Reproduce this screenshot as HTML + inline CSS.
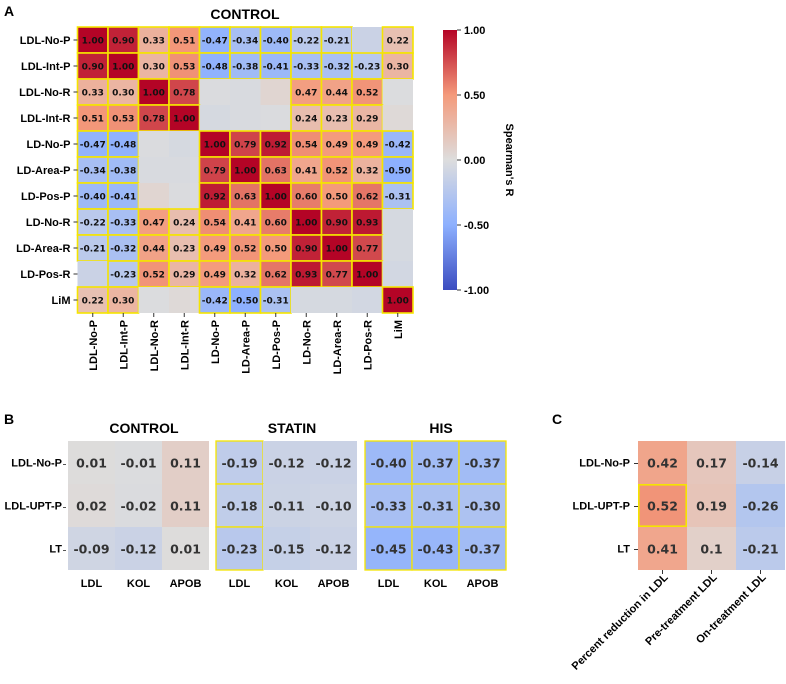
<!DOCTYPE html>
<html><head><meta charset="utf-8"><style>
body{margin:0;background:#fff;}
svg{display:block;font-family:"Liberation Sans",Arial,sans-serif;}
</style></head><body>
<svg id="fig" width="786" height="684" viewBox="0 0 786 684">
<defs>
<linearGradient id="cbgrad" x1="0" y1="1" x2="0" y2="0">
<stop offset="0" stop-color="rgb(59,76,192)"/>
<stop offset="0.25" stop-color="rgb(141,176,254)"/>
<stop offset="0.5" stop-color="rgb(221,221,221)"/>
<stop offset="0.75" stop-color="rgb(244,154,123)"/>
<stop offset="1" stop-color="rgb(180,4,38)"/>
</linearGradient>
</defs>
<text x="4" y="16" font-size="14" font-weight="bold">A</text>
<text x="245" y="19" font-size="14" font-weight="bold" text-anchor="middle">CONTROL</text>
<text x="4" y="424" font-size="14" font-weight="bold">B</text>
<text x="552" y="424" font-size="14" font-weight="bold">C</text>
<g id="gA"></g>
<g id="gB"></g>
<g id="gC"></g>
<g>
<rect x="443" y="30" width="14" height="260" fill="url(#cbgrad)"/>
<g id="cbticks"></g>
<text transform="translate(506,160) rotate(90)" font-size="11" font-weight="bold" text-anchor="middle">Spearman's R</text>
</g>
</svg>
<script>
const aLabels = ["LDL-No-P","LDL-Int-P","LDL-No-R","LDL-Int-R","LD-No-P","LD-Area-P","LD-Pos-P","LD-No-R","LD-Area-R","LD-Pos-R","LiM"];
const aValues = [
[1,.90,.33,.51,-.47,-.34,-.40,-.22,-.21,-.12,.22],
[.90,1,.30,.53,-.48,-.38,-.41,-.33,-.32,-.23,.30],
[.33,.30,1,.78,-.02,-.03,.06,.47,.44,.52,-.01],
[.51,.53,.78,1,-.05,-.03,-.02,.24,.23,.29,.03],
[-.47,-.48,-.02,-.05,1,.79,.92,.54,.49,.49,-.42],
[-.34,-.38,-.03,-.03,.79,1,.63,.41,.52,.32,-.50],
[-.40,-.41,.06,-.02,.92,.63,1,.60,.50,.62,-.31],
[-.22,-.33,.47,.24,.54,.41,.60,1,.90,.93,-.05],
[-.21,-.32,.44,.23,.49,.52,.50,.90,1,.77,-.05],
[-.12,-.23,.52,.29,.49,.32,.62,.93,.77,1,-.07],
[.22,.30,-.01,.03,-.42,-.50,-.31,-.05,-.05,-.07,1]];
const bRows = ["LDL-No-P","LDL-UPT-P","LT"];
const bCols = ["LDL","KOL","APOB"];
const bGroups = ["CONTROL","STATIN","HIS"];
const bControl = [[.01,-.01,.11],[.02,-.02,.11],[-.09,-.12,.01]];
const bStatin = [[-.19,-.12,-.12],[-.18,-.11,-.10],[-.23,-.15,-.12]];
const bHis = [[-.40,-.37,-.37],[-.33,-.31,-.30],[-.45,-.43,-.37]];
const bSigControl = [[0,0,0],[0,0,0],[0,0,0]];
const bSigStatin = [[1,0,0],[1,0,0],[1,0,0]];
const bSigHis = [[1,1,1],[1,1,1],[1,1,1]];
const cCols = ["Percent reduction in LDL","Pre-treatment LDL","On-treatment LDL"];
const cValues = [[.42,.17,-.14],[.52,.19,-.26],[.41,.1,-.21]];
const cLabels = [["0.42","0.17","-0.14"],["0.52","0.19","-0.26"],["0.41","0.1","-0.21"]];
const cSig = [[0,0,0],[1,0,0],[0,0,0]];
const cbTicks = [1,0.5,0,-0.5,-1];

const NS="http://www.w3.org/2000/svg";
const stops=[[-1,[59,76,192]],[-0.5,[141,176,254]],[0,[221,221,221]],[0.5,[244,154,123]],[1,[180,4,38]]];
function cmap(v){v=Math.max(-1,Math.min(1,v));for(let i=0;i<stops.length-1;i++){const[a,ca]=stops[i],[b,cb]=stops[i+1];if(v<=b){const t=(v-a)/(b-a);return "rgb("+ca.map((c,k)=>Math.round(c+(cb[k]-c)*t)).join(",")+")";}}return "rgb(180,4,38)";}
function el(tag,attrs,parent,txt){const e=document.createElementNS(NS,tag);for(const k in attrs)e.setAttribute(k,attrs[k]);if(txt!==undefined)e.textContent=txt;parent.appendChild(e);return e;}

// Panel A
(function(){
const g=document.getElementById('gA');
const x0=77.5,y0=27,cw=30.5,ch=26;
const xs=i=>x0+i*cw, ys=j=>y0+j*ch;
aValues.forEach((row,r)=>row.forEach((v,c)=>{
 const sig=Math.abs(v)>=0.2;
 const rc=el('rect',{x:xs(c),y:ys(r),width:cw,height:ch,fill:cmap(v),stroke:sig?'#f5e400':'none','stroke-width':sig?1.6:0},g);
 
 
 if(sig){const t=el('text',{x:xs(c)+cw/2,y:ys(r)+ch/2+3.5,'font-size':9,'font-weight':'bold','text-anchor':'middle','font-family':'DejaVu Sans,sans-serif',fill:'#111'},g,v.toFixed(2));
 
 }
}));
aLabels.forEach((l,i)=>{
 const t=el('text',{x:x0-7,y:ys(i)+ch/2+4,'font-size':11,'font-weight':'bold','text-anchor':'end'},g,l);
 
 
 el('line',{x1:x0-4,x2:x0,y1:ys(i)+ch/2,y2:ys(i)+ch/2,stroke:'#333','stroke-width':1},g);
 const cx=xs(i)+cw/2;
 const t2=el('text',{transform:`translate(${cx+4},${y0+11*ch+7}) rotate(-90)`,'font-size':11,'font-weight':'bold','text-anchor':'end'},g,l);
 
 
 el('line',{x1:cx,x2:cx,y1:y0+11*ch,y2:y0+11*ch+4,stroke:'#333','stroke-width':1},g);
});
const cb=document.getElementById('cbticks');
cbTicks.forEach(v=>{const y=30+(1-v)/2*260;
 el('line',{x1:457,x2:461,y1:y,y2:y,stroke:'#333'},cb);
 const t=el('text',{x:464,y:y+4,'font-size':11,'font-weight':'bold'},cb,v.toFixed(2));
 
 });
})();

// Panel B
(function(){
const g=document.getElementById('gB');
const data=[bControl,bStatin,bHis], sigs=[bSigControl,bSigStatin,bSigHis];
const gx=[68,216,365], y0=441, cw=47, ch=43;
data.forEach((m,gi)=>{
 const t=el('text',{x:gx[gi]+76,y:433,'font-size':14,'font-weight':'bold','text-anchor':'middle'},g,bGroups[gi]);
 
 
 m.forEach((row,r)=>row.forEach((v,c)=>{
  const s=sigs[gi][r][c];
  const rc=el('rect',{x:gx[gi]+c*cw,y:y0+r*ch,width:cw,height:ch,fill:cmap(v),stroke:s?'#f5e400':'none','stroke-width':1.3},g);
  
  
  const tx=el('text',{x:gx[gi]+c*cw+cw/2,y:y0+r*ch+ch/2+5,'font-size':12.5,'font-weight':'bold','text-anchor':'middle','font-family':'DejaVu Sans,sans-serif',fill:'#333'},g,v.toFixed(2));
  
  
 }));
 bCols.forEach((l,c)=>{const t=el('text',{x:gx[gi]+c*cw+cw/2,y:587,'font-size':11,'font-weight':'bold','text-anchor':'middle'},g,l);
  
  });
});
bRows.forEach((l,r)=>{const t=el('text',{x:62,y:y0+r*ch+ch/2+4,'font-size':11,'font-weight':'bold','text-anchor':'end'},g,l);
 
 
 el('line',{x1:63,x2:66,y1:y0+r*ch+ch/2+2,y2:y0+r*ch+ch/2+2,stroke:'#555'},g);});
})();

// Panel C
(function(){
const g=document.getElementById('gC');
const x0=638,y0=441,cw=49,ch=43;
cValues.forEach((row,r)=>row.forEach((v,c)=>{
 const rc=el('rect',{x:x0+c*cw,y:y0+r*ch,width:cw,height:ch,fill:cmap(v)},g);
 
 
 const tx=el('text',{x:x0+c*cw+cw/2,y:y0+r*ch+ch/2+5,'font-size':12.5,'font-weight':'bold','text-anchor':'middle','font-family':'DejaVu Sans,sans-serif',fill:'#333'},g,cLabels[r][c]);
 
 
}));
cSig.forEach((row,r)=>row.forEach((s,c)=>{if(s){const b=el('rect',{x:x0+c*cw+0.8,y:y0+r*ch+0.8,width:cw-1.6,height:ch-1.6,fill:'none',stroke:'#f5e400','stroke-width':1.6},g);
 
 }}));
bRows.forEach((l,r)=>{const t=el('text',{x:x0-8,y:y0+r*ch+ch/2+4,'font-size':11,'font-weight':'bold','text-anchor':'end'},g,l);
 
 
 el('line',{x1:x0-4,x2:x0,y1:y0+r*ch+ch/2+1,y2:y0+r*ch+ch/2+1,stroke:'#333'},g);});
cCols.forEach((l,c)=>{const cx=x0+c*cw+cw/2+6;
 const t=el('text',{transform:`translate(${cx},${y0+3*ch+8}) rotate(-45)`,'font-size':11,'font-weight':'bold','text-anchor':'end'},g,l);
 
 
 el('line',{x1:cx-6,x2:cx-6,y1:y0+3*ch,y2:y0+3*ch+4,stroke:'#333'},g);});
})();
</script>
</body></html>
